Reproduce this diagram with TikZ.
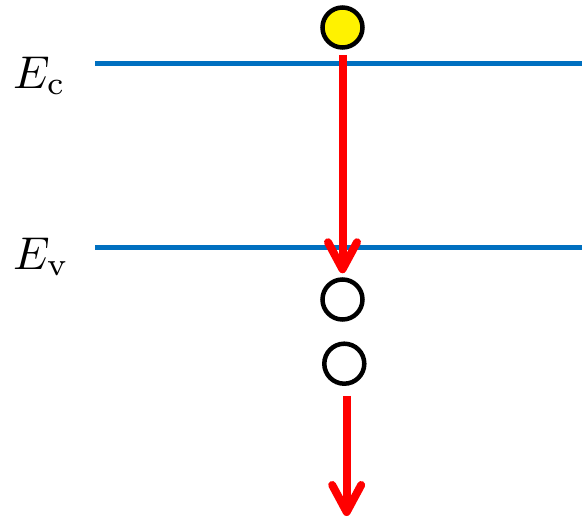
\documentclass[tikz,border=0pt]{standalone}
\usetikzlibrary{positioning,arrows.meta}

\definecolor{bandblue}{RGB}{0,112,192}
\newcommand{\lvlsym}[1]{\scalebox{4.6}{$E_{\mathrm{#1}}$}}

\begin{document}
\begin{tikzpicture}[
  x=1pt, y=-1pt,
  lbl/.style={anchor=base west, inner sep=0pt},
  band/.style={draw=bandblue, line width=5pt},
  carrier/.style={circle, draw=black, line width=4.5pt, minimum size=40pt, inner sep=0pt},
  elec/.style={carrier, fill=yellow},
  hole/.style={carrier, fill=white},
  jump/.style={draw=red, line width=8pt,
               -{Straight Barb[length=27pt, width=29pt, line width=8pt, round]}}
]
\useasboundingbox (0,0) rectangle (582,520);

% energy levels
\coordinate (ecl) at (95,63);  \coordinate (ecr) at (582,63);
\coordinate (evl) at (95,247); \coordinate (evr) at (582,247);
\draw[band] (ecl) -- (ecr);
\draw[band] (evl) -- (evr);
\node[lbl] (ec) at (13,88)  {\lvlsym{c}};
\node[lbl] (ev) at (13,269) {\lvlsym{v}};

% carriers
\node[elec] (el)  at (342.5,27.5)  {};
\node[hole] (h1)  at (342.5,299.5) {};
\node[hole] (h2)  at (344.3,363.7) {};
\coordinate (out) at (346.7,516);

\draw[jump, shorten <=5pt, shorten >=4pt] (el.south) -- (h1.north);
\draw[jump, shorten <=10pt] (h2.south -| out) -- (out);
\end{tikzpicture}
\end{document}
